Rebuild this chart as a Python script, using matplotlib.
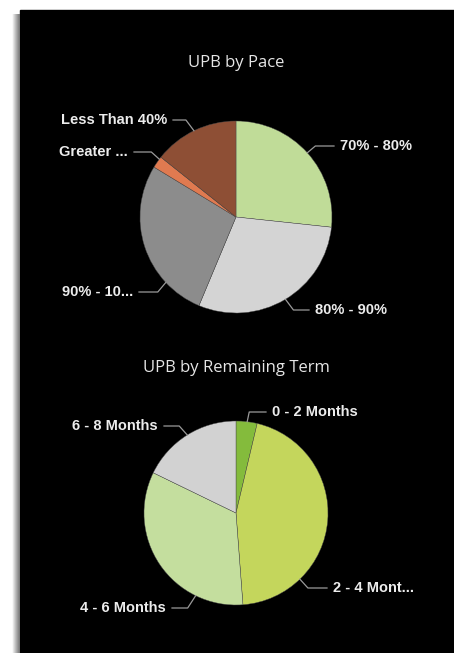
import numpy as np
import matplotlib.pyplot as plt
from matplotlib.patches import Rectangle

W, H = 454, 653

# UPB by Pace
pace_labels = ['70% - 80%', '80% - 90%', '90% - 10...', 'Greater ...', 'Less Than 40%']
pace_values = [26.7, 29.6, 27.4, 2.0, 14.3]
pace_colors = ['#c0dc98', '#d4d4d4', '#8c8c8c', '#e07a50', '#8e4f35']

# UPB by Remaining Term
term_labels = ['0 - 2 Months', '2 - 4 Mont...', '4 - 6 Months', '6 - 8 Months']
term_values = [3.7, 45.1, 33.4, 17.8]
term_colors = ['#84bb3c', '#c4d65c', '#c4de9e', '#d2d2d2']

# label layout: (attach angle, text x, text y, side)
pace_layout = [(42, 340, 146, 1), (-59, 315, 310, 1), (223, 133, 292, -1),
               (143, 128, 152, -1), (116, 167, 120, -1)]
term_layout = [(83, 272, 412, 1), (-46, 333, 588, 1), (244, 166, 608, -1),
               (122, 158, 426, -1)]
elbow_dx = {'0 - 2 Months': 2}

fig = plt.figure(figsize=(W / 100, H / 100), dpi=100)
fig.patch.set_facecolor('white')
ax = fig.add_axes([0, 0, 1, 1])

# dark panel and soft shadow on the left
ax.add_patch(Rectangle((20, 0), W - 20, H - 10, color='black', zorder=0))
grad = np.linspace(1.0, 0.6, 16) ** 1.5
ax.imshow(grad[None, :], cmap='gray', vmin=0, vmax=1, aspect='auto',
          extent=[12, 20, 0, H - 14], zorder=0)


def draw_pie(values, colors, labels, layout, cx, cy, r, title, ty):
    ax.pie(values, colors=colors, startangle=90, counterclock=False,
           center=(cx, H - cy), radius=r, frame=True,
           wedgeprops=dict(linewidth=0.3, edgecolor='#4a4a4a'))
    ax.text(cx, H - ty, title, color='#e6e6e6', fontsize=12,
            family='Open Sans', ha='center', va='center')
    for lab, (ang, tx, ty2, side) in zip(labels, layout):
        a = np.deg2rad(ang)
        ex, ey = cx + r * np.cos(a), (H - cy) + r * np.sin(a)
        dx = elbow_dx.get(lab, 8)
        xs = [ex, ex + dx * side, tx - 6 * side]
        ys = [ey, H - ty2, H - ty2]
        ax.plot(xs, ys, color='#9a9a9a', lw=0.9, zorder=3)
        ax.text(tx, H - ty2, lab, color='#ececec', fontsize=10.5,
                family='Liberation Sans', fontweight='bold',
                ha='left' if side > 0 else 'right', va='center')


draw_pie(pace_values, pace_colors, pace_labels, pace_layout,
         236, 217, 96, 'UPB by Pace', 63)
draw_pie(term_values, term_colors, term_labels, term_layout,
         236, 513, 92, 'UPB by Remaining Term', 368)

ax.set_xlim(0, W)
ax.set_ylim(0, H)
ax.set_aspect('auto')
ax.axis('off')

fig.savefig('out.png', dpi=100, facecolor=fig.get_facecolor())
